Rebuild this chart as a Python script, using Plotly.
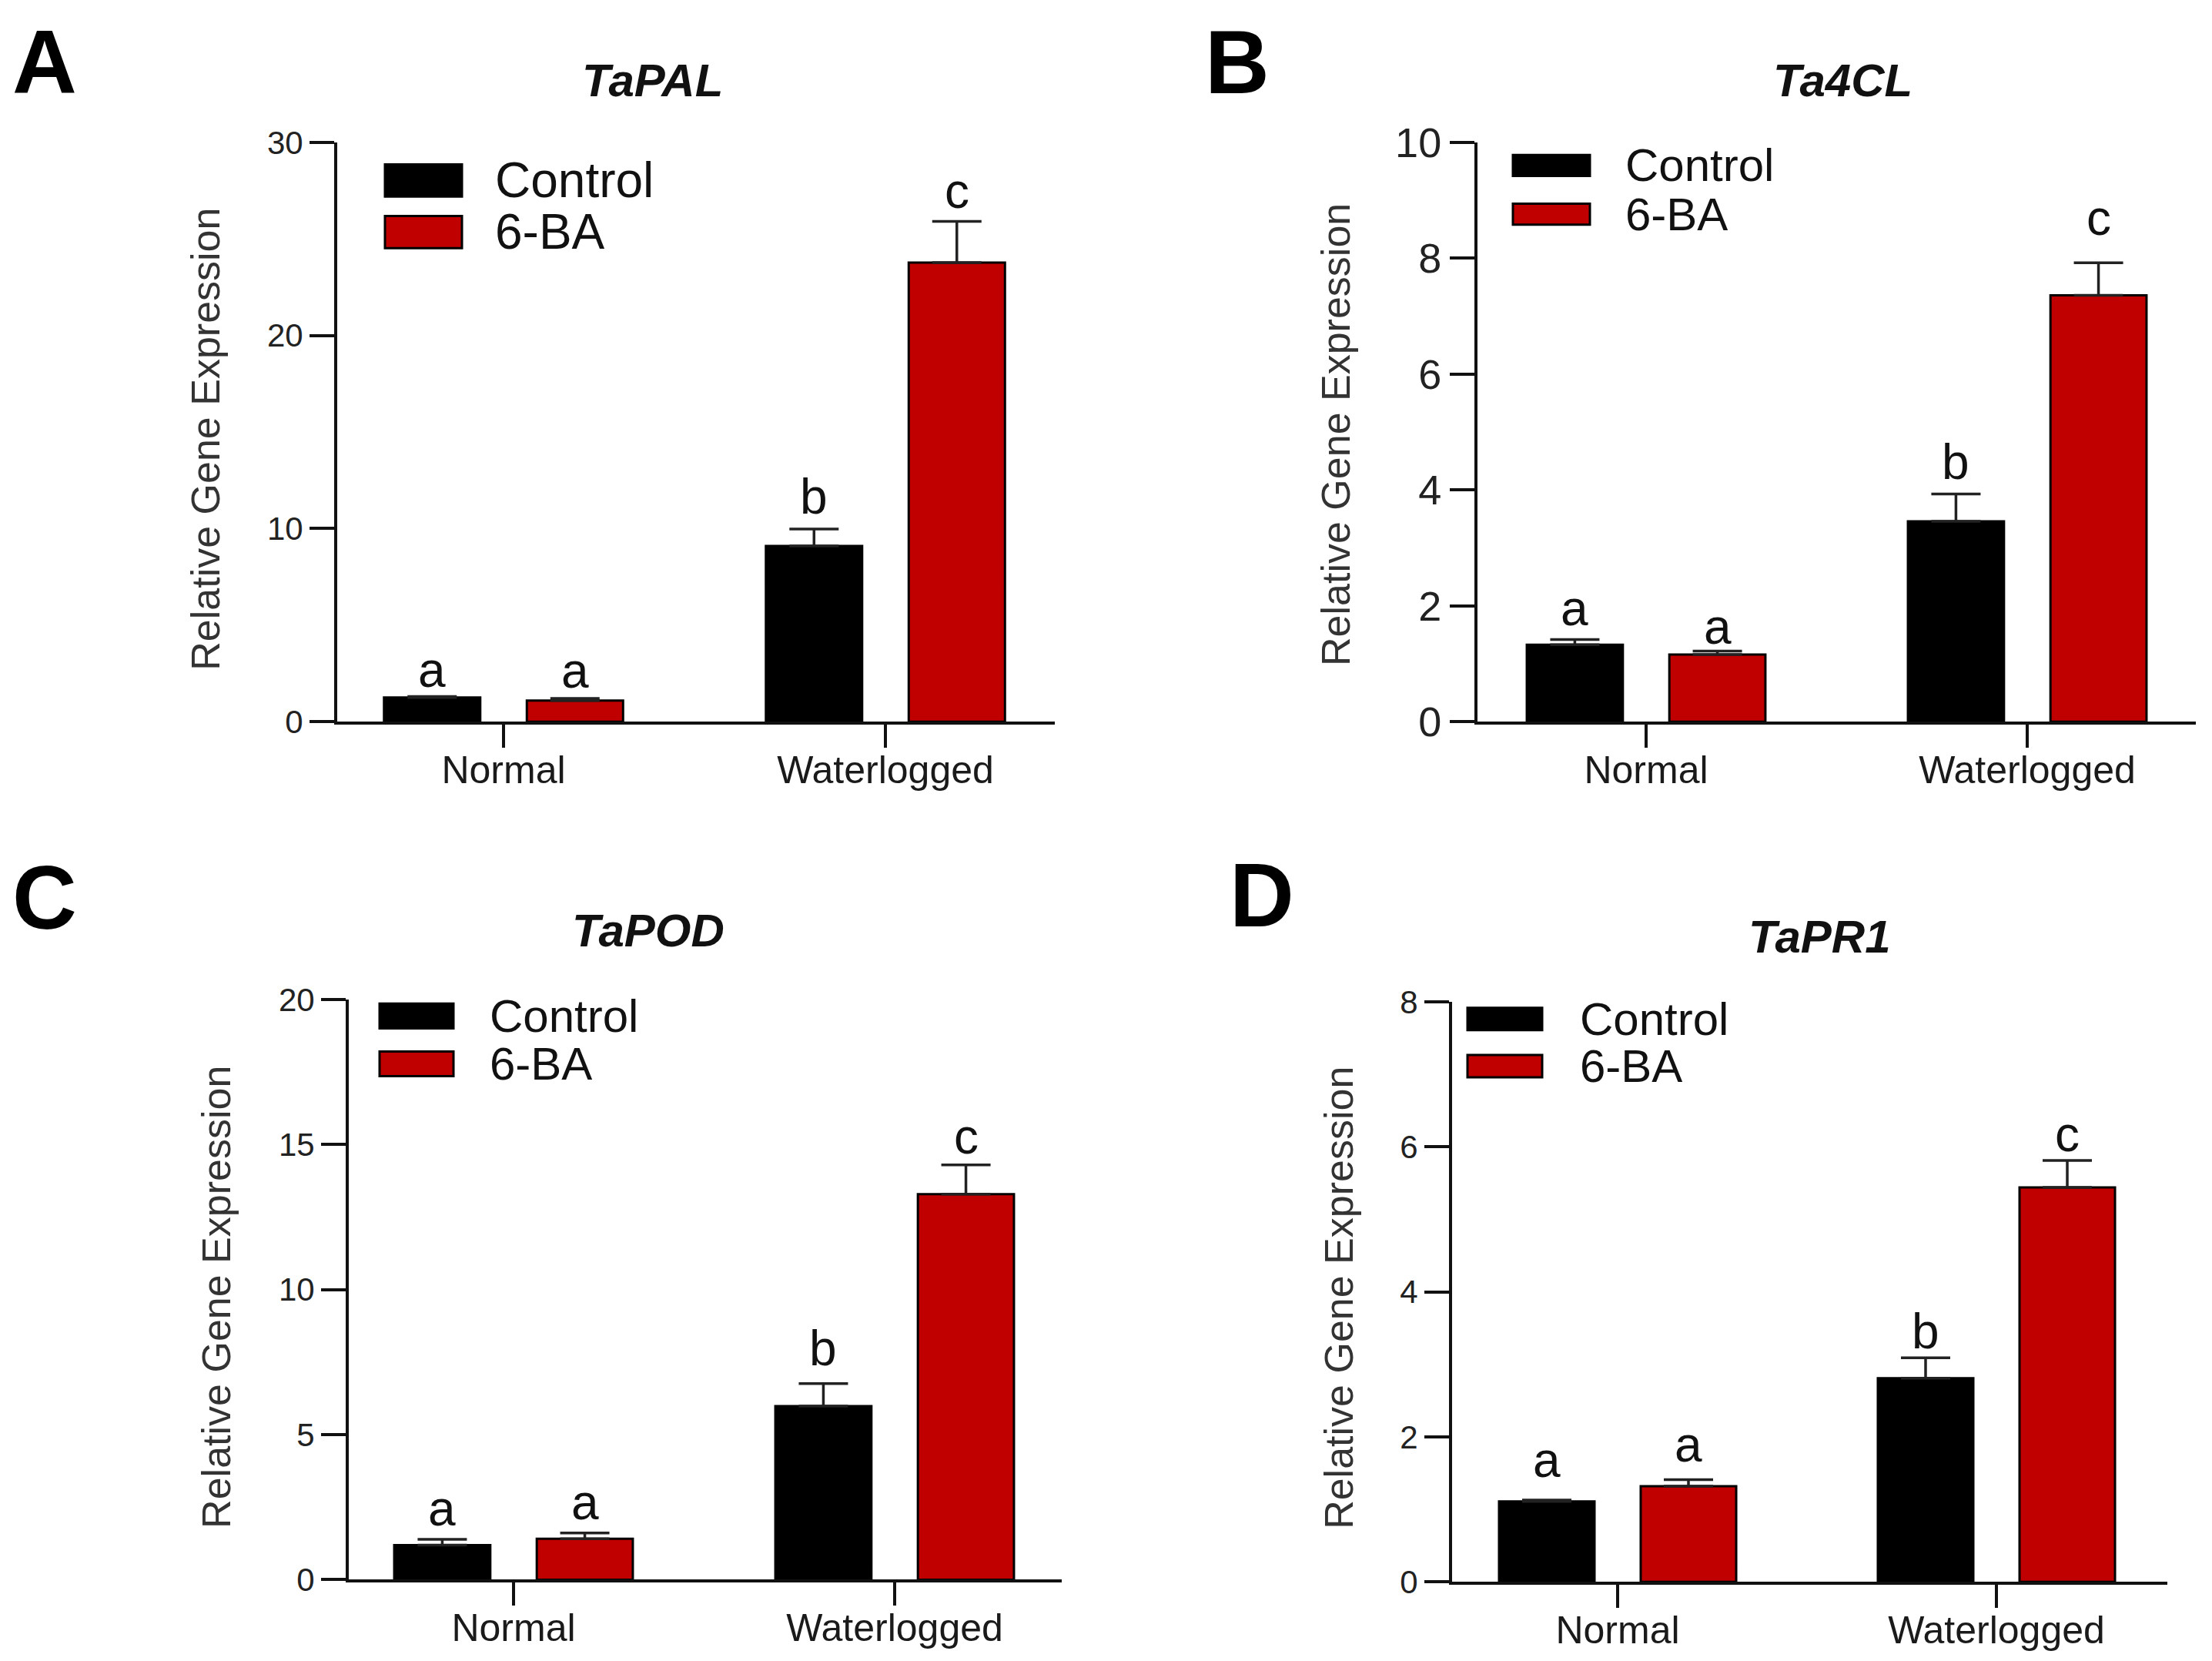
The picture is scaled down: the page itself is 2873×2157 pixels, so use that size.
import plotly.graph_objects as go

W, H = 2873, 2157

groups = ["Normal", "Waterlogged"]
series_names = ["Control", "6-BA"]
series_colors = ["#000000", "#c00000"]

genes = ["TaPAL", "Ta4CL", "TaPOD", "TaPR1"]
panel_letters = ["A", "B", "C", "D"]

# mean relative expression and upper error, order: Normal, Waterlogged
tapal_control = [1.26, 9.10]
tapal_control_err = [0.05, 0.88]
tapal_6ba = [1.10, 23.77]
tapal_6ba_err = [0.11, 2.14]

ta4cl_control = [1.33, 3.46]
ta4cl_control_err = [0.09, 0.47]
ta4cl_6ba = [1.16, 7.36]
ta4cl_6ba_err = [0.06, 0.56]

tapod_control = [1.19, 5.98]
tapod_control_err = [0.20, 0.78]
tapod_6ba = [1.41, 13.29]
tapod_6ba_err = [0.20, 1.01]

tapr1_control = [1.11, 2.81]
tapr1_control_err = [0.02, 0.28]
tapr1_6ba = [1.32, 5.44]
tapr1_6ba_err = [0.09, 0.37]

# significance letters
control_letters = ["a", "b"]
ba_letters = ["a", "c"]

y_max = [30, 10, 20, 8]
y_dtick = [10, 2, 5, 2]

data = [
    (tapal_control, tapal_control_err, tapal_6ba, tapal_6ba_err),
    (ta4cl_control, ta4cl_control_err, ta4cl_6ba, ta4cl_6ba_err),
    (tapod_control, tapod_control_err, tapod_6ba, tapod_6ba_err),
    (tapr1_control, tapr1_control_err, tapr1_6ba, tapr1_6ba_err),
]

# panel geometry in page pixels
# lshift: pixel gap above error cap for letters (ctrl N, 6-BA N, ctrl WL, 6-BA WL)
panels = [
    dict(x0=435, x1=1367, y0=925, y1=151, xr=[-0.4355, 1.4435], tickfont=42,
         title=(844, 68), label=(55, 44), ytitle=(264, 548),
         lshift=[(34, 42), (36, 39)],
         leg=dict(left=497, w=100, h=43, rows=(202, 271), tx=638, font=64)),
    dict(x0=1916, x1=2849, y0=925, y1=151, xr=[-0.4424, 1.4424], tickfont=54,
         title=(2390, 68), label=(1604, 44), ytitle=(1732, 541),
         lshift=[(40, 42), (31, 58)],
         leg=dict(left=1962, w=100, h=28, rows=(182, 247), tx=2106, font=60)),
    dict(x0=450, x1=1376, y0=2071, y1=1296, xr=[-0.4323, 1.4384], tickfont=42,
         title=(839, 1204), label=(55, 1160), ytitle=(278, 1694),
         lshift=[(40, 46), (40, 37)],
         leg=dict(left=490, w=96, h=33, rows=(1318, 1382), tx=631, font=60)),
    dict(x0=1883, x1=2812, y0=2074, y1=1299, xr=[-0.4370, 1.4512], tickfont=42,
         title=(2360, 1212), label=(1636, 1157), ytitle=(1736, 1695),
         lshift=[(52, 34), (46, 34)],
         leg=dict(left=1903, w=97, h=30, rows=(1322, 1385), tx=2047, font=60)),
]

FONT = "Liberation Sans, Arial, sans-serif"
bargap = 0.252
bargroupgap = 0.326
offset = (1 - bargap) / 4


def px(x):
    return (x - 5) / W


def py(y):
    return 1 - y / H


def note(x, y, text, size, color="#111111", **kw):
    d = dict(x=px(x), y=py(y), xref="paper", yref="paper", text=text, showarrow=False,
             xanchor="center", yanchor="middle",
             font=dict(size=size, color=color, family=FONT))
    d.update(kw)
    return d


fig = go.Figure()
annotations = []
shapes = []

for i, p in enumerate(panels):
    n = "" if i == 0 else str(i + 1)
    xa, ya = "x" + n, "y" + n
    ctrl, ctrl_err, ba, ba_err = data[i]

    for vals, errs, name, col in [(ctrl, ctrl_err, series_names[0], series_colors[0]),
                                  (ba, ba_err, series_names[1], series_colors[1])]:
        fig.add_trace(go.Bar(
            x=groups, y=vals, name=name, xaxis=xa, yaxis=ya, showlegend=False,
            marker=dict(color=col, line=dict(color="#000000", width=3)),
            error_y=dict(type="data", symmetric=False, array=errs, arrayminus=[0, 0],
                         color="#222222", thickness=3.5, width=32),
        ))

    fig.layout["xaxis" + n] = dict(
        domain=[px(p["x0"]), px(p["x1"])], anchor=ya, range=p["xr"],
        showline=True, linecolor="#111111", linewidth=4,
        ticks="outside", ticklen=30, tickwidth=4, tickcolor="#111111",
        ticklabelstandoff=-14,
        tickfont=dict(size=50, color="#1a1a1a", family=FONT), showgrid=False,
    )
    fig.layout["yaxis" + n] = dict(
        domain=[py(p["y0"]), py(p["y1"])], anchor=xa, range=[0, y_max[i]],
        dtick=y_dtick[i], showline=True, linecolor="#111111", linewidth=4,
        ticks="outside", ticklen=32, tickwidth=4, tickcolor="#111111",
        tickfont=dict(size=p["tickfont"], color="#222222", family=FONT),
        showgrid=False, zeroline=False,
    )

    # significance letters
    for g in range(len(groups)):
        for s, (xoff, vals, errs, letters) in enumerate([(-offset, ctrl, ctrl_err, control_letters),
                                                         (offset, ba, ba_err, ba_letters)]):
            annotations.append(dict(x=g + xoff, y=vals[g] + errs[g], xref=xa, yref=ya,
                                    text=letters[g], showarrow=False, yshift=p["lshift"][s][g],
                                    xanchor="center", yanchor="middle",
                                    font=dict(size=64, color="#111111", family=FONT)))

    annotations.append(note(*p["title"], "<b><i>" + genes[i] + "</i></b>", 60))
    annotations.append(note(*p["label"], "<b>" + panel_letters[i] + "</b>", 116, "#000000"))
    annotations.append(note(*p["ytitle"], "Relative Gene Expression", 52, "#333333",
                            textangle=-90))

    # legend
    lg = p["leg"]
    for k in range(2):
        yc = lg["rows"][k]
        shapes.append(dict(type="rect", xref="paper", yref="paper",
                           x0=px(lg["left"]), x1=px(lg["left"] + lg["w"]),
                           y0=py(yc + lg["h"] / 2), y1=py(yc - lg["h"] / 2),
                           fillcolor=series_colors[k], line=dict(color="#000000", width=3)))
        annotations.append(note(lg["tx"], yc, series_names[k], lg["font"], xanchor="left"))

fig.update_layout(
    width=W, height=H, margin=dict(l=0, r=0, t=0, b=0),
    paper_bgcolor="white", plot_bgcolor="white",
    barmode="group", bargap=bargap, bargroupgap=bargroupgap,
    annotations=annotations, shapes=shapes, showlegend=False,
    font=dict(family=FONT),
)

fig.write_html("out.html")
